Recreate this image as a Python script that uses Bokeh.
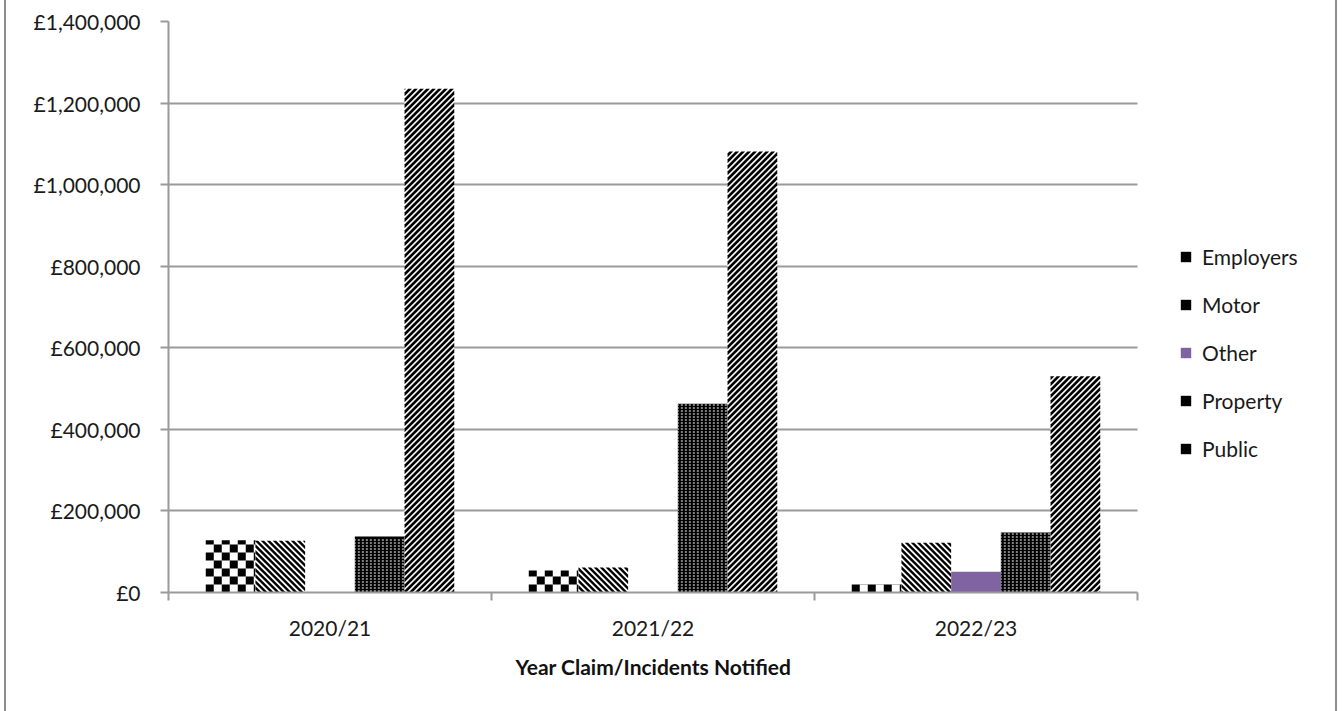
import math
import numpy as np
from bokeh.plotting import figure
from bokeh.models import (ColumnDataSource, FixedTicker, Legend, LegendItem, Range1d, Title)
from bokeh.embed import file_html
from bokeh.resources import INLINE

# Claim values by year notified, per claim type (GBP)
years = ["2020/21", "2021/22", "2022/23"]
employers = [128000, 54000, 20000]
motor = [127000, 61000, 122000]
other = [0, 0, 51000]
property_claims = [137000, 463000, 147000]
public = [1235000, 1081000, 530000]
series_names = ["Employers", "Motor", "Other", "Property", "Public"]
y_ticks = [0, 200000, 400000, 600000, 800000, 1000000, 1200000, 1400000]

FONT = "Lato"
GRID = "#9a9a9a"
TEXT = "#1a1a1a"
INK = "black"

# canvas geometry; the frame runs on to the right edge so the legend sits inside it,
# while the categories occupy x in [0, 3]
WIDTH, HEIGHT = 1333, 711
B_LEFT, B_TOP, B_BOTTOM = 162, 21, 119
CAT_RIGHT = 1131
n_years = len(years)
FRAME_W = WIDTH - B_LEFT
FRAME_H = HEIGHT - B_TOP - B_BOTTOM
x_end = n_years * FRAME_W / (CAT_RIGHT - B_LEFT)
PX_X = x_end / FRAME_W          # data units per screen pixel
PX_Y = y_ticks[-1] / FRAME_H

p = figure(width=WIDTH, height=HEIGHT, output_backend="svg", toolbar_location=None,
           x_range=Range1d(0, x_end), y_range=Range1d(0, y_ticks[-1]),
           min_border_left=B_LEFT, min_border_right=0, min_border_top=B_TOP,
           min_border_bottom=B_BOTTOM)
p.styles = {"margin-left": "4px", "border-left": "2px solid #8e8e8e",
            "border-right": "2px solid #8e8e8e"}
p.outline_line_color = None
p.background_fill_color = "white"
p.border_fill_color = "white"


# ---- fill textures, built in pixel space and mapped back to data units ----
def clip(poly, a, b, c):
    """Keep the part of a convex polygon where a*x + b*y >= c."""
    out = []
    for i in range(len(poly)):
        p1, p2 = poly[i], poly[(i + 1) % len(poly)]
        d1 = a * p1[0] + b * p1[1] - c
        d2 = a * p2[0] + b * p2[1] - c
        if d1 >= 0:
            out.append(p1)
        if (d1 >= 0) != (d2 >= 0):
            t = d1 / (d1 - d2)
            out.append((p1[0] + t * (p2[0] - p1[0]), p1[1] + t * (p2[1] - p1[1])))
    return out


def stripes(left, right, top, sign, period=6.0, thick=3.0):
    """Diagonal bands x + sign*y = const clipped to a bar (pixel units)."""
    rect = [(left, 0.0), (right, 0.0), (right, top), (left, top)]
    vals = [x + sign * y for x, y in rect]
    c = math.floor(min(vals) / period) * period
    xs, ys = [], []
    while c < max(vals):
        poly = clip(rect, 1, sign, c)
        poly = clip(poly, -1, -sign, -(c + thick))
        if len(poly) >= 3:
            xs.append([q[0] * PX_X for q in poly])
            ys.append([q[1] * PX_Y for q in poly])
        c += period
    return xs, ys


def checker(left, right, top, size=8.0):
    q = dict(left=[], right=[], bottom=[], top=[])
    for j in range(math.ceil(top / size)):
        for i in range(math.ceil((right - left) / size)):
            if (i + j) % 2 == 0:
                q["left"].append((left + i * size) * PX_X)
                q["right"].append(min(left + (i + 1) * size, right) * PX_X)
                q["bottom"].append(j * size * PX_Y)
                q["top"].append(min((j + 1) * size, top) * PX_Y)
    return q


def dot_rows(left, right, top, step=3.0):
    rows = np.arange(1.5, top - 1.0, step)
    return ([[left * PX_X, right * PX_X]] * len(rows),
            [[r * PX_Y, r * PX_Y] for r in rows])


# grouped bars: five series per year, gap equal to 1.5 bar widths
n = len(series_names)
bar_w = 1.0 / (n + 1.5)
centers = np.arange(n_years) + 0.5
values = [employers, motor, other, property_claims, public]
base_fill = {"Employers": "white", "Motor": "white", "Other": "#8064A2",
             "Property": INK, "Public": "white"}
stripe_style = {"Motor": (1, 3.4), "Public": (-1, 3.7)}   # direction, band width

items = []
for k, (name, vals) in enumerate(zip(series_names, values)):
    xs = centers + (k - (n - 1) / 2) * bar_w
    base = p.vbar(x=xs, top=vals, width=bar_w, bottom=0,
                  fill_color=base_fill[name], line_color=None)
    icon = base
    lefts = (xs - bar_w / 2) / PX_X
    rights = (xs + bar_w / 2) / PX_X
    tops = np.array(vals) / PX_Y
    if name == "Employers":
        q = dict(left=[], right=[], bottom=[], top=[])
        for l, r, t in zip(lefts, rights, tops):
            for key, v in checker(l, r, t).items():
                q[key] += v
        icon = p.quad(source=ColumnDataSource(q), fill_color=INK, line_color=None)
    elif name in stripe_style:
        sign, thick = stripe_style[name]
        px, py = [], []
        for l, r, t in zip(lefts, rights, tops):
            if t > 0:
                a, b = stripes(l, r, t, sign, thick=thick)
                px += a
                py += b
        icon = p.patches(px, py, fill_color=INK, line_color=None)
    elif name == "Property":
        mx, my = [], []
        for l, r, t in zip(lefts, rights, tops):
            a, b = dot_rows(l, r, t)
            mx += a
            my += b
        p.multi_line(mx, my, line_color="white", line_width=1, line_dash="2 2",
                     line_dash_offset=1)
    items.append(LegendItem(label=name, renderers=[icon]))

# axes
p.yaxis.ticker = FixedTicker(ticks=y_ticks)
p.yaxis.major_label_overrides = {t: "£{:,}".format(t) for t in y_ticks}
p.yaxis.minor_tick_line_color = None
p.yaxis.major_tick_out = 8
p.yaxis.major_tick_in = 0
p.yaxis.major_label_standoff = 20
p.yaxis.axis_line_color = GRID
p.yaxis.axis_line_width = 2
p.yaxis.major_tick_line_color = GRID
p.yaxis.major_tick_line_width = 2
p.yaxis.major_label_text_font = FONT
p.yaxis.major_label_text_font_size = "21px"
p.yaxis.major_label_text_color = TEXT

p.xaxis.bounds = (0, n_years)
p.xaxis.ticker = FixedTicker(ticks=list(centers), minor_ticks=list(range(n_years + 1)))
p.xaxis.major_label_overrides = {float(c): y for c, y in zip(centers, years)}
p.xaxis.major_tick_line_color = None
p.xaxis.minor_tick_line_color = GRID
p.xaxis.minor_tick_line_width = 2
p.xaxis.minor_tick_out = 8
p.xaxis.minor_tick_in = 0
p.xaxis.major_label_standoff = 14
p.xaxis.axis_line_color = GRID
p.xaxis.axis_line_width = 2
p.xaxis.major_label_text_font = FONT
p.xaxis.major_label_text_font_size = "21px"
p.xaxis.major_label_text_color = TEXT

# axis title centred under the category span rather than the whole frame
x_title = Title(text="Year Claim/Incidents Notified", align="left", offset=347, standoff=18,
                text_font=FONT, text_font_style="bold", text_font_size="21px",
                text_color="#111111")
p.add_layout(x_title, "below")

p.xgrid.grid_line_color = None
p.ygrid.ticker = FixedTicker(ticks=y_ticks)
p.ygrid.cross_bounds = (0, n_years)
p.ygrid.grid_line_color = GRID
p.ygrid.grid_line_width = 2

legend = Legend(items=items, location=(1011, 131), orientation="vertical",
                border_line_color=None, background_fill_alpha=0, padding=0, margin=0,
                glyph_width=13, glyph_height=13, label_height=20, spacing=23,
                label_standoff=10, label_text_font=FONT, label_text_font_size="21px",
                label_text_color=TEXT)
p.add_layout(legend, "center")

open("out.html", "w").write(file_html(p, INLINE))
